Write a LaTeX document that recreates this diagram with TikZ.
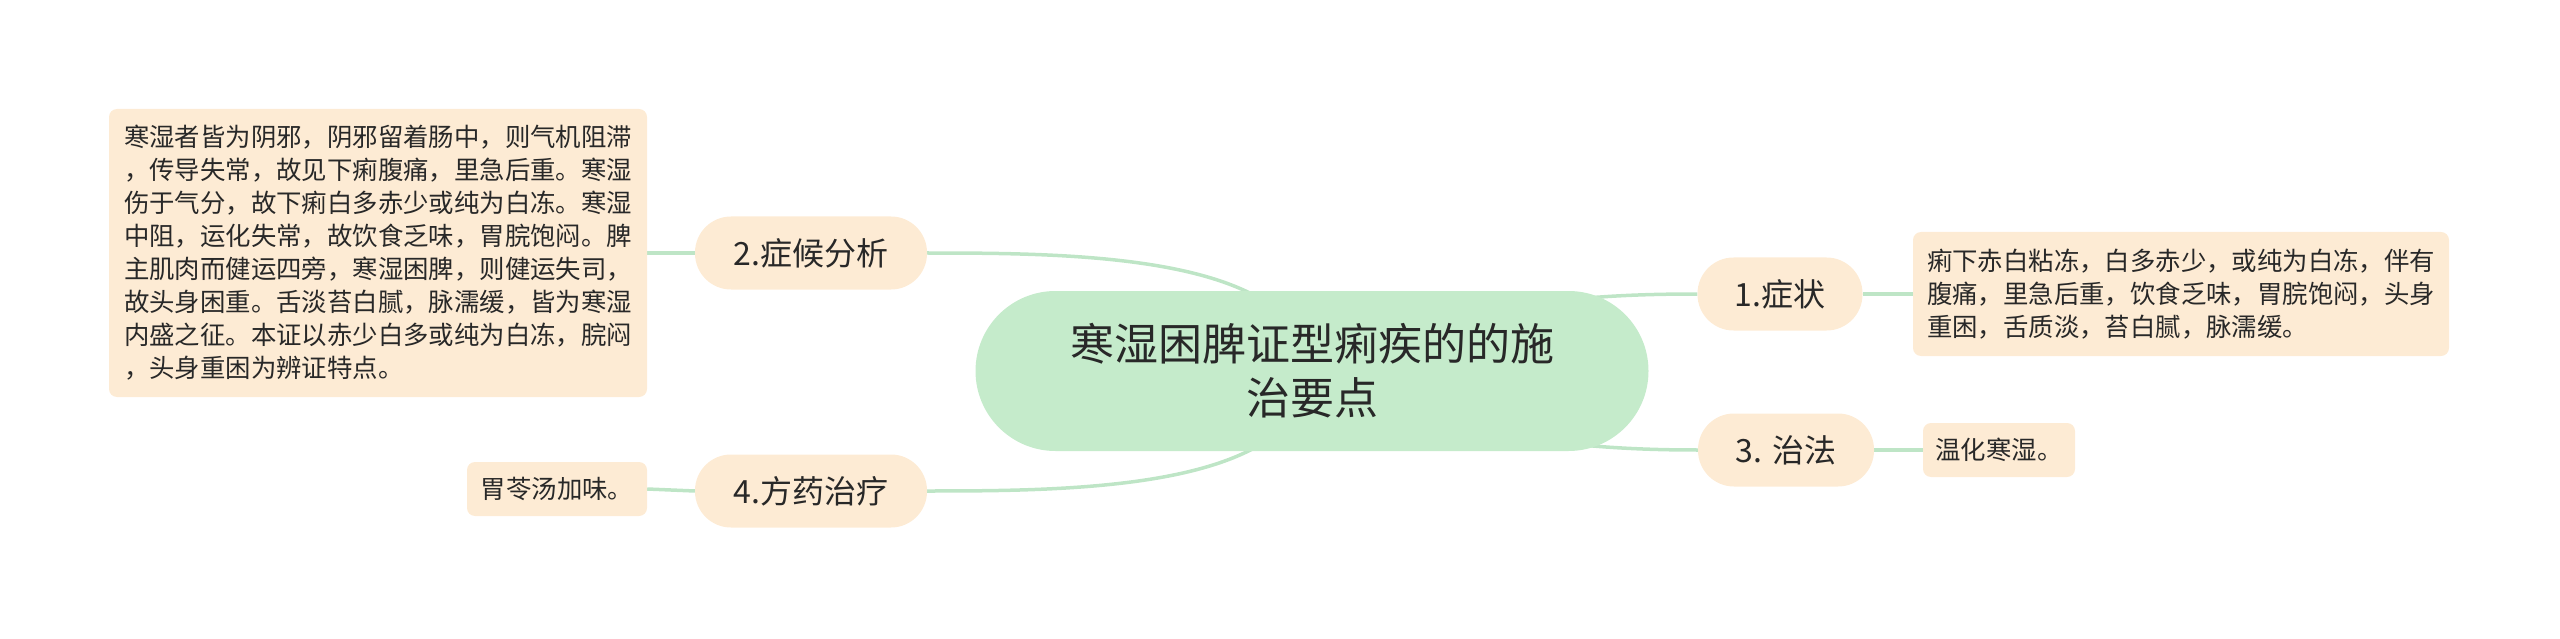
\documentclass[tikz,border=0pt]{standalone}
\usepackage{fontspec}
\setmainfont{Noto Sans CJK SC}
\usetikzlibrary{backgrounds}
\definecolor{peach}{RGB}{253,235,212}
\definecolor{mint}{RGB}{197,235,203}
\definecolor{linkc}{RGB}{190,229,198}
\definecolor{ink}{RGB}{40,40,40}
\tikzset{
  centernode/.style={draw=none, fill=mint, rounded corners=80pt, minimum width=673pt, minimum height=160pt,
    align=center, text=ink, font=\fontsize{44}{54}\selectfont, inner sep=0pt},
  branchnode/.style={draw=none, fill=peach, rounded corners=36pt, minimum height=73pt,
    text=ink, font=\fontsize{32}{38}\selectfont, inner sep=0pt},
  leafnode/.style={draw=none, fill=peach, rounded corners=8pt, align=left,
    text=ink, font=\fontsize{25.4}{33}\selectfont, inner sep=0pt},
  link/.style={draw=linkc, line width=3.5pt},
}
\begin{document}
\begin{tikzpicture}[x=1pt,y=-1pt]
\useasboundingbox (0,0) rectangle (2560,639);
\node[centernode] (c) at (1312,371) {寒湿困脾证型痢疾的的施\\治要点};
\node[branchnode, minimum width=232pt] (n2) at (811,253) {2.症候分析};
\node[branchnode, minimum width=232pt] (n4) at (811,491) {4.方药治疗};
\node[branchnode, minimum width=165pt] (n1) at (1780,294) {1.症状};
\node[branchnode, minimum width=176pt] (n3) at (1786,450) {3. 治法};
\node[leafnode, minimum width=538pt, minimum height=288pt] (l2) at (378,253) {寒湿者皆为阴邪，阴邪留着肠中，则气机阻滞\\，传导失常，故见下痢腹痛，里急后重。寒湿\\伤于气分，故下痢白多赤少或纯为白冻。寒湿\\中阻，运化失常，故饮食乏味，胃脘饱闷。脾\\主肌肉而健运四旁，寒湿困脾，则健运失司，\\故头身困重。舌淡苔白腻，脉濡缓，皆为寒湿\\内盛之征。本证以赤少白多或纯为白冻，脘闷\\，头身重困为辨证特点。};
\node[leafnode, minimum width=536pt, minimum height=124pt] (l1) at (2181,294) {痢下赤白粘冻，白多赤少，或纯为白冻，伴有\\腹痛，里急后重，饮食乏味，胃脘饱闷，头身\\重困，舌质淡，苔白腻，脉濡缓。};
\node[leafnode, minimum width=152pt, minimum height=54pt] (l3) at (1999,450) {温化寒湿。};
\node[leafnode, minimum width=180pt, minimum height=54pt] (l4) at (557,489) {胃苓汤加味。};
\begin{scope}[on background layer]
\draw[link] (c.center) .. controls (1300,255) and (1080,253) .. (n2.east);
\draw[link] (c.center) .. controls (1300,489) and (1080,491) .. (n4.east);
\draw[link] (c.center) .. controls (1450,300) and (1600,294) .. (n1.west);
\draw[link] (c.center) .. controls (1450,442) and (1600,450) .. (n3.west);
\draw[link] (n2.west) -- (l2.east);
\draw[link] (n4.west) -- (l4.east);
\draw[link] (n1.east) -- (l1.west);
\draw[link] (n3.east) -- (l3.west);
\end{scope}
\end{tikzpicture}
\end{document}
